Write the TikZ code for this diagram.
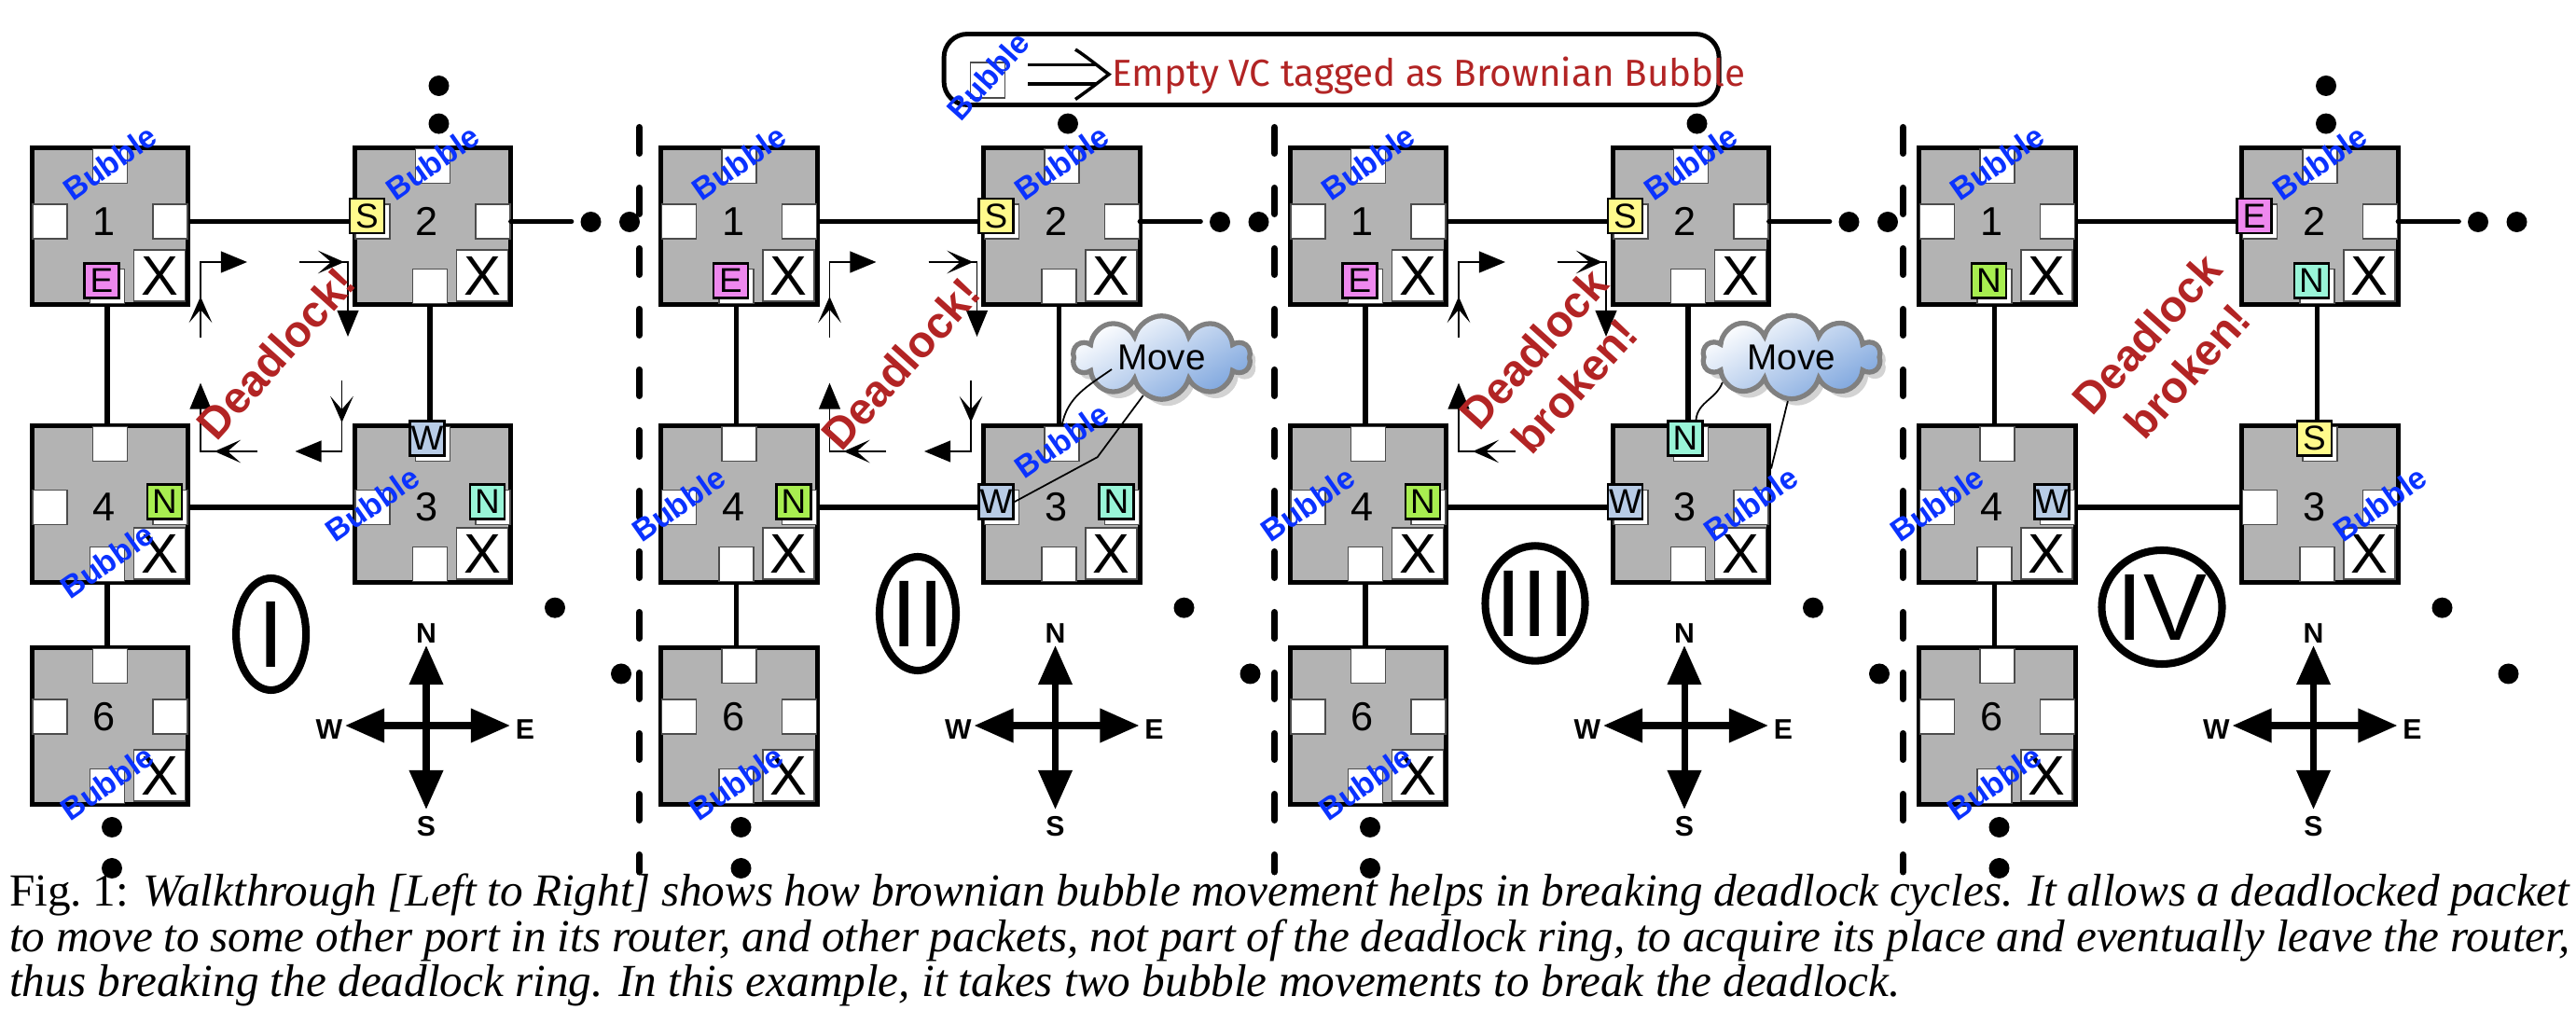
\documentclass[tikz,border=0pt]{standalone}
\usepackage{fontspec}
\setmainfont{Liberation Serif}
\setsansfont{Liberation Sans}
\newfontfamily\legendfont{Fira Sans}
\usetikzlibrary{arrows.meta,positioning,calc,shapes.symbols,shadows}

\definecolor{routergray}{HTML}{B3B3B3}
\definecolor{bubbleblue}{RGB}{10,50,255}
\definecolor{deadred}{RGB}{178,36,36}
\definecolor{tagS}{HTML}{FFFA8C}
\definecolor{tagE}{HTML}{EE88EE}
\definecolor{tagNg}{HTML}{A8EE50}
\definecolor{tagNa}{HTML}{99F5D8}
\definecolor{tagW}{HTML}{B8CCE6}
\definecolor{cloudblue}{HTML}{7EA6DE}

\tikzset{
  router/.style={rectangle, draw, line width=1.3pt, fill=routergray, minimum size=1.675cm, inner sep=0pt},
  port/.style={rectangle, draw=black!70, line width=0.4pt, fill=white, minimum size=0.37cm, inner sep=0pt},
  xbox/.style={rectangle, draw=black!70, line width=0.5pt, fill=white, minimum size=0.55cm, inner sep=0pt, font=\sffamily\fontsize{17}{17}\selectfont},
  rnum/.style={inner sep=0pt, font=\sffamily\fontsize{12.3}{12.3}\selectfont},
  vctag/.style={rectangle, draw, line width=0.8pt, minimum size=0.37cm, inner sep=0pt, font=\sffamily\fontsize{10.5}{10.5}\selectfont},
  bubble/.style={inner sep=0pt, text=bubbleblue, rotate=#1, font=\sffamily\bfseries\fontsize{9.5}{9.5}\selectfont},
  bubble/.default=35,
  link/.style={line width=1.5pt},
  ringtip/.style={line width=0.5pt, -{Triangle[length=8pt,width=6.5pt]}},
  ringmid/.style={line width=0.5pt, -{Stealth[length=8pt,width=7pt,inset=4pt]}},
  deadtext/.style={text=deadred, rotate=48, align=center, inner sep=0pt, font=\sffamily\bfseries\fontsize{13.5}{16.8}\selectfont},
  ring/.style={line width=2.3pt},
  numeral/.style={inner sep=0pt, font=\sffamily\fontsize{29}{29}\selectfont},
  compassarrow/.style={line width=2pt, -{Triangle[length=12pt,width=10pt]}},
  cmplabel/.style={inner sep=0.6pt, font=\sffamily\bfseries\fontsize{8.6}{8.6}\selectfont},
  movecloud/.style={cloud, cloud puffs=10, aspect=2.2, draw=black!50, line width=1.5pt, minimum width=1.9cm, minimum height=0.85cm, inner sep=0pt, top color=white, bottom color=cloudblue, shading angle=30, drop shadow={opacity=0.35, shadow xshift=0.6mm, shadow yshift=-0.7mm}, font=\sffamily\fontsize{11}{11}\selectfont},
  calloutline/.style={line width=0.5pt},
  divider/.style={line width=2pt, line cap=round, dash pattern=on 0.28cm off 0.37cm},
}

\newcommand{\router}[4]{%
  \node[router] (#1) at (#2) {};
  \node[port, yshift=6.45mm] (#1n) at (#1) {};
  \node[port, xshift=-0.3mm, yshift=-6.45mm] (#1s) at (#1) {};
  \node[port, xshift=-6.45mm, yshift=#4] (#1w) at (#1) {};
  \node[port, xshift=6.45mm, yshift=#4] (#1e) at (#1) {};
  \node[xbox, xshift=5.3mm, yshift=-5.3mm] (#1x) at (#1) {X};
  \node[rnum, xshift=-0.6mm, yshift=#4] (#1num) at (#1) {#3};
}
\newcommand{\vctag}[3]{\node[vctag, fill=#2, xshift=-0.6mm, yshift=0.6mm] (#1t) at (#1) {#3};}
\newcommand{\bub}[1]{\node[bubble, xshift=0.2mm, yshift=0.3mm] (#1b) at (#1) {Bubble};}

\begin{document}
\begin{tikzpicture}[x=1cm, y=-1cm]
\useasboundingbox (0,0) rectangle (27.62,10.98);

\foreach \x in {6.855, 13.665, 20.405}
  \draw[divider] (\x,1.365) -- (\x,9.35);

\foreach \p/\q in {0/a,1/b,2/c,3/d} {
  \router{\q1}{6.745*\p+1.18,2.425}{1}{0.5mm}
  \router{\q2}{6.745*\p+4.64,2.425}{2}{0.5mm}
  \router{\q3}{6.745*\p+4.64,5.405}{3}{-0.35mm}
  \router{\q4}{6.745*\p+1.18,5.405}{4}{-0.35mm}
  \router{\q6}{6.745*\p+1.18,7.785}{6}{1mm}
  \draw[link] (\q1e.east) -- (\q2w.west);
  \draw[link] (\q4e.east) -- (\q3w.west);
  \draw[link] (\q1s.south) -- (\q1s.south |- \q4n.north);
  \draw[link] (\q2s.south) -- (\q2s.south |- \q3n.north);
  \draw[link] (\q4s.south) -- (\q4s.south |- \q6n.north);
  \draw[link, line cap=round] (\q2e.east) -- ++(0.65,0) coordinate (\q-out);
  \fill (6.745*\p+4.705,1.326) circle (0.11);
  \fill (6.745*\p+6.335,2.38) circle (0.11);
  \fill (6.745*\p+6.75,2.38) circle (0.11);
  \fill (6.745*\p+5.95,6.517) circle (0.11);
  \fill (6.745*\p+6.66,7.225) circle (0.11);
  \fill (6.745*\p+1.20,8.87) circle (0.11);
  \fill (6.745*\p+1.20,9.31) circle (0.11);
  \coordinate (\q-c) at (6.745*\p+4.57,7.78);
  \draw[compassarrow] (\q-c) -- ++(0,-0.86) coordinate (\q-cn);
  \draw[compassarrow] (\q-c) -- ++(0,0.90) coordinate (\q-cs);
  \draw[compassarrow] (\q-c) -- ++(-0.87,0) coordinate (\q-cw);
  \draw[compassarrow] (\q-c) -- ++(0.90,0) coordinate (\q-ce);
  \node[cmplabel, above] (\q-N) at (\q-cn) {N};
  \node[cmplabel, below=0.5mm] (\q-S) at (\q-cs) {S};
  \node[cmplabel, left, yshift=-0.4mm] (\q-W) at (\q-cw) {W};
  \node[cmplabel, right=0.3mm, yshift=-0.4mm] (\q-E) at (\q-ce) {E};
}
\fill (4.705,0.92) circle (0.11);
\fill (20.235+4.705,0.92) circle (0.11);

\foreach \p/\q in {0/a,1/b,2/c} {
  \path (6.745*\p+2.15,3.62) coordinate (\q-ra)
        (6.745*\p+3.21,2.81) coordinate (\q-rb)
        (6.745*\p+2.755,4.84) coordinate (\q-rd);
  \draw[ringtip] (\q-ra) -- ++(0,-0.81) -- ++(0.5,0);
  \draw[ringmid] (\q-ra) -- ++(0,-0.44);
  \draw[ringtip] (\q-rb) -- ++(0.52,0) -- ++(0,0.80);
  \draw[ringmid] (\q-rb) -- ++(0.48,0);
  \draw[ringtip] (\q-rd) -- ++(-0.605,0) -- ++(0,-0.734);
  \draw[ringmid] (\q-rd) -- ++(-0.455,0);
}
\foreach \p/\q in {0/a,1/b} {
  \path (6.745*\p+3.665,4.08) coordinate (\q-rc);
  \draw[ringtip] (\q-rc) -- ++(0,0.76) -- ++(-0.5,0);
  \draw[ringmid] (\q-rc) -- ++(0,0.45);
}

\vctag{a1s}{tagE}{E} \vctag{a2w}{tagS}{S} \vctag{a3n}{tagW}{W}
\vctag{a3e}{tagNa}{N} \vctag{a4e}{tagNg}{N}
\vctag{b1s}{tagE}{E} \vctag{b2w}{tagS}{S} \vctag{b3w}{tagW}{W}
\vctag{b3e}{tagNa}{N} \vctag{b4e}{tagNg}{N}
\vctag{c1s}{tagE}{E} \vctag{c2w}{tagS}{S} \vctag{c3n}{tagNa}{N}
\vctag{c3w}{tagW}{W} \vctag{c4e}{tagNg}{N}
\vctag{d1s}{tagNg}{N} \vctag{d2w}{tagE}{E} \vctag{d2s}{tagNa}{N}
\vctag{d3n}{tagS}{S} \vctag{d4e}{tagW}{W}

\bub{a1n} \bub{a2n} \bub{a3w} \bub{a4s} \bub{a6s}
\bub{b1n} \bub{b2n} \bub{b3n} \bub{b4w} \bub{b6s}
\bub{c1n} \bub{c2n} \bub{c3e} \bub{c4w} \bub{c6s}
\bub{d1n} \bub{d2n} \bub{d3e} \bub{d4w} \bub{d6s}

\node[deadtext] (a-dl) at (2.96,3.785) {Deadlock!};
\node[deadtext] (b-dl) at (6.745+2.91,3.90) {Deadlock!};
\node[deadtext] (c-dl) at (13.49+3.17,3.94) {Deadlock\\broken!};
\node[deadtext] (d-dl) at (20.235+3.00,3.78) {Deadlock\\broken!};

\node[movecloud] (b-mv) at (6.745+5.71,3.835) {Move};
\draw[calloutline] ($(b-mv)+(-0.535,0.125)$) to[out=215, in=80] (b3n.north);
\draw[calloutline] (b-mv.244) -- ++(-0.49,0.66) -- (b3wt.east);
\node[movecloud] (c-mv) at (13.49+5.72,3.83) {Move};
\draw[calloutline] (c-mv.200) to[out=250, in=85] (c3nt.60);
\draw[calloutline] (c-mv.265) -- ($(c3.east)+(0,-0.38)$);

\node[numeral] (a-num) at (2.906,6.80) {I};
\draw[ring] (a-num.center) ellipse [x radius=0.375, y radius=0.60];
\node[numeral] (b-num) at (6.745+3.095,6.58) {II};
\draw[ring] (b-num.center) ellipse [x radius=0.41, y radius=0.61];
\node[numeral] (c-num) at (13.49+2.97,6.47) {III};
\draw[ring] (c-num.center) ellipse [x radius=0.535, y radius=0.617];
\node[numeral] (d-num) at (20.235+2.945,6.51) {IV};
\draw[ring] (d-num.center) ellipse [x radius=0.645, y radius=0.61];

\node[rectangle, rounded corners=0.25cm, draw, line width=1.4pt, fill=white,
      minimum width=8.31cm, minimum height=0.76cm] (lg) at (14.276,0.745) {};
\node[port, minimum width=0.365cm, minimum height=0.383cm] (lgport) at (10.59,0.86) {};
\node[bubble=48] (lgbub) at (10.594,0.814) {Bubble};
\draw[line width=1pt] (11.02,0.693) -- (11.76,0.693) (11.02,0.90) -- (11.76,0.90);
\draw[line width=1pt] (11.53,0.53) .. controls (11.64,0.60) and (11.80,0.73) .. (11.89,0.797)
  .. controls (11.80,0.865) and (11.64,0.99) .. (11.53,1.065);
\node[anchor=base west, inner sep=0pt, text=deadred, font=\legendfont\fontsize{11.5}{12}\selectfont]
  (lgtext) at (11.92,0.925) {Empty VC tagged as Brownian Bubble};

\node[anchor=north west, inner sep=0pt, text width=27.45cm, align=justify,
      font=\fontsize{14}{10.3}\selectfont] (cap) at (0.096,9.36)
  {\lineskiplimit=-\maxdimen Fig.~1: \textit{Walkthrough [Left to Right] shows how brownian bubble movement helps in breaking deadlock cycles. It allows a deadlocked packet\linebreak to move to some other port in its router, and other packets, not part of the deadlock ring, to acquire its place and eventually leave the router,\linebreak thus breaking the deadlock ring. In this example, it takes two bubble movements to break the deadlock.}};
\end{tikzpicture}
\end{document}
